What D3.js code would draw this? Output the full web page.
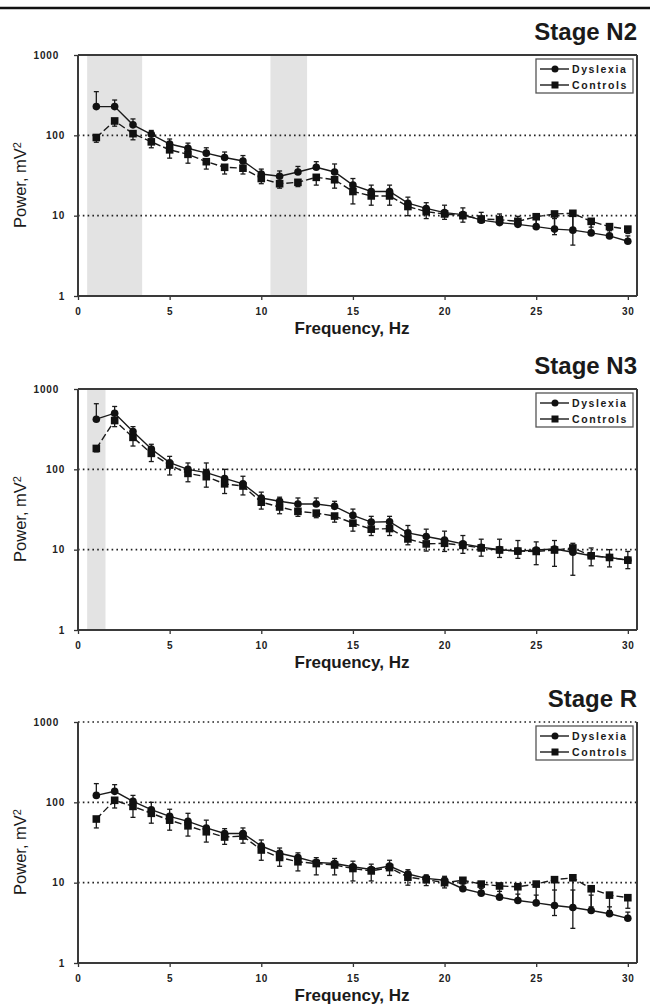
<!DOCTYPE html>
<html>
<head>
<meta charset="utf-8">
<script src="https://cdn.jsdelivr.net/npm/d3@7"></script>
<style>
  body { margin: 0; background: #fff; }
  svg { display: block; font-family: "Liberation Sans", Arial, sans-serif; }
</style>
</head>
<body>
<svg id="chart" width="650" height="1007"></svg>
<script>
// Frequencies (Hz)
const freqs = [1,2,3,4,5,6,7,8,9,10,11,12,13,14,15,16,17,18,19,20,21,22,23,24,25,26,27,28,29,30];
const yTicks = [1, 10, 100, 1000];
const xTicks = [0, 5, 10, 15, 20, 25, 30];

// Stage N2
const n2Dys   = [228,228,135,103,78,69,60,53,48,33,31,35,40,35,24,20,20,14.3,12.3,10.9,10.3,8.8,8.2,7.8,7.3,6.8,6.6,6.1,5.6,4.8];
const n2DysHi = [350,275,160,115,90,80,70,62,56,38,36,41,47,44,29,24,24,17,14.5,13.5,12.5,11,10.5,9.8,9.5,9.2,10.5,8,6.8,5.6];
const n2Ctl   = [94,151,105,83,66,58,47,40,39,29,25,26,30,28,20,17.6,17.6,13,11.2,10.5,10,9.1,8.9,8.5,9.7,10.5,10.7,8.5,7.3,6.8];
const n2CtlLo = [82,130,88,70,52,45,38,33,33,25,22,23,24,22,14,13.5,13.5,10,9.2,9,8.3,8.2,7.8,7.5,7.5,5.8,4.3,7.2,6.5,6.0];
const n2Bands = [[0.5, 3.5], [10.5, 12.5]];

// Stage N3
const n3Dys   = [421,500,295,179,121,100,91,77,66,44,40,37,37,34.6,26.7,22,22.3,16.2,14.6,13.2,11.8,10.7,10,9.6,9.9,10.2,9.3,8.4,8.0,7.4];
const n3DysHi = [656,606,340,205,145,120,120,100,82,52,45,44,44,40,32,26,26,20,18,17,15,13.5,13.5,13,12.5,13,12,10.5,10,9.5];
const n3Ctl   = [182,405,250,158,113,89,81,66,62,39,34,30,28.5,26.2,21.4,18,18.3,13.6,11.8,12,11.3,10.5,9.9,9.6,9.5,9.9,10.5,8.4,8.0,7.4];
const n3CtlLo = [165,340,195,125,85,70,60,50,48,32,28,26,25,22,17,15,15,11.5,9.6,9.5,9,8.3,8,7.8,6.5,6.2,4.8,6.3,6.1,5.8];
const n3Bands = [[0.5, 1.5]];

// Stage R
const rDys    = [122,137,103,81,67,58,48,41,41,28.6,23.2,20.6,17.9,17.3,15.8,14.6,16.1,12.8,11.3,10.7,8.4,7.4,6.6,6.0,5.6,5.2,4.9,4.5,4.1,3.6];
const rDysHi  = [171,166,122,100,82,73,60,47,48,34,27,23.5,20.5,20,18.5,17,19,14.5,12.5,12,9.6,8.5,7.8,7.2,7,8.1,8.1,7,5,4.3];
const rCtl    = [62,106,89,73,60,51,43,37,38,25.5,20.6,18.2,17.3,16.6,15,14,15.4,11.7,10.9,10,10.7,9.6,9.1,8.9,9.6,10.9,11.5,8.4,7.0,6.5];
const rCtlLo  = [48,85,65,55,45,38,32,30,31,19,16,14,12.5,12.5,10.5,10.5,12.3,9.3,9.2,8.6,8.0,7.6,6.6,6,5.6,3.9,2.7,5.0,4.5,4.8];
const rBands  = [];

const panels = [
  { title: 'Stage N2', top: 55,  dys: n2Dys, dysHi: n2DysHi, ctl: n2Ctl, ctlLo: n2CtlLo, bands: n2Bands, grid: [10, 100] },
  { title: 'Stage N3', top: 389, dys: n3Dys, dysHi: n3DysHi, ctl: n3Ctl, ctlLo: n3CtlLo, bands: n3Bands, grid: [10, 100] },
  { title: 'Stage R',  top: 722, dys: rDys,  dysHi: rDysHi,  ctl: rCtl,  ctlLo: rCtlLo,  bands: rBands,  grid: [10, 100, 1000] }
];

const svg = d3.select('#chart');
const left = 78, right = 637, plotH = 241;
const ink = '#1a1a1a';

// rule at the very top of the page
svg.append('line')
  .attr('x1', 0).attr('x2', 650).attr('y1', 8).attr('y2', 8)
  .attr('stroke', '#111').attr('stroke-width', 2.5);

const x = d3.scaleLinear().domain([0, 30.5]).range([left, right]);

panels.forEach(p => {
  const y = d3.scaleLog().domain([1, 1000]).range([p.top + plotH, p.top]);
  const g = svg.append('g');

  // shaded frequency bands
  g.selectAll('rect.band')
    .data(p.bands)
    .enter().append('rect')
    .attr('class', 'band')
    .attr('x', d => x(d[0]))
    .attr('width', d => x(d[1]) - x(d[0]))
    .attr('y', p.top)
    .attr('height', plotH)
    .attr('fill', '#e3e3e3');

  // dotted reference lines
  g.selectAll('line.grid')
    .data(p.grid)
    .enter().append('line')
    .attr('class', 'grid')
    .attr('x1', left).attr('x2', right)
    .attr('y1', d => y(d)).attr('y2', d => y(d))
    .attr('stroke', '#222')
    .attr('stroke-width', 1.6)
    .attr('stroke-dasharray', '1.6,3.2');

  // axes
  const xAxis = d3.axisBottom(x).tickValues(xTicks).tickSize(4).tickPadding(6);
  const yAxis = d3.axisLeft(y).tickValues(yTicks).tickFormat(d3.format('d')).tickSize(4).tickPadding(9);

  const gx = g.append('g').attr('transform', `translate(0,${p.top + plotH})`).call(xAxis);
  const gy = g.append('g').attr('transform', `translate(${left},0)`).call(yAxis);
  [gx, gy].forEach(a => {
    a.select('.domain').remove();
    a.selectAll('line').attr('stroke', '#333').attr('stroke-width', 1.3);
    a.selectAll('text')
      .attr('fill', '#222')
      .style('font-size', '10px')
      .style('font-weight', 'bold')
      .style('letter-spacing', '0.8px');
  });
  gx.selectAll('text').attr('dy', '0.9em');
  gy.selectAll('text').filter(d => d === 1000).attr('dx', -6);

  // frame
  const frame = g.append('g').attr('fill', 'none').attr('stroke', '#3a3a3a').attr('stroke-width', 2);
  frame.append('line').attr('x1', left).attr('x2', left).attr('y1', p.top).attr('y2', p.top + plotH);
  frame.append('line').attr('x1', left).attr('x2', right).attr('y1', p.top + plotH).attr('y2', p.top + plotH);
  frame.append('line').attr('x1', right).attr('x2', right).attr('y1', p.top).attr('y2', p.top + plotH);
  if (p.grid.indexOf(1000) < 0) {
    frame.append('line').attr('x1', left).attr('x2', right).attr('y1', p.top).attr('y2', p.top);
  }

  const rows = freqs.map((f, i) => ({
    f: f, dys: p.dys[i], dysHi: p.dysHi[i], ctl: p.ctl[i], ctlLo: p.ctlLo[i]
  }));

  // series lines
  g.append('path')
    .datum(rows)
    .attr('fill', 'none')
    .attr('stroke', ink)
    .attr('stroke-width', 1.4)
    .attr('stroke-dasharray', '7,3')
    .attr('d', d3.line().x(d => x(d.f)).y(d => y(d.ctl)));

  g.append('path')
    .datum(rows)
    .attr('fill', 'none')
    .attr('stroke', ink)
    .attr('stroke-width', 1.4)
    .attr('d', d3.line().x(d => x(d.f)).y(d => y(d.dys)));

  // error bars: controls downward, dyslexia upward
  const bars = g.append('g').attr('stroke', ink).attr('stroke-width', 1.3);
  rows.forEach(d => {
    const cx = x(d.f);
    bars.append('line').attr('x1', cx).attr('x2', cx).attr('y1', y(d.ctl)).attr('y2', y(d.ctlLo));
    bars.append('line').attr('x1', cx - 2.5).attr('x2', cx + 2.5).attr('y1', y(d.ctlLo)).attr('y2', y(d.ctlLo));
    bars.append('line').attr('x1', cx).attr('x2', cx).attr('y1', y(d.dys)).attr('y2', y(d.dysHi));
    bars.append('line').attr('x1', cx - 2.5).attr('x2', cx + 2.5).attr('y1', y(d.dysHi)).attr('y2', y(d.dysHi));
  });

  // markers
  g.selectAll('rect.ctl')
    .data(rows)
    .enter().append('rect')
    .attr('class', 'ctl')
    .attr('x', d => x(d.f) - 3.8)
    .attr('y', d => y(d.ctl) - 3.8)
    .attr('width', 7.6).attr('height', 7.6)
    .attr('fill', '#111');

  g.selectAll('circle.dys')
    .data(rows)
    .enter().append('circle')
    .attr('class', 'dys')
    .attr('cx', d => x(d.f))
    .attr('cy', d => y(d.dys))
    .attr('r', 3.8)
    .attr('fill', '#111');

  // legend
  const lg = g.append('g').attr('transform', `translate(536,${p.top + 4})`);
  lg.append('rect')
    .attr('width', 97).attr('height', 34)
    .attr('fill', '#fff').attr('stroke', '#555').attr('stroke-width', 1.3);
  const items = [{ name: 'Dyslexia', shape: 'circle' }, { name: 'Controls', shape: 'square' }];
  items.forEach((it, i) => {
    const ly = 10 + i * 16;
    lg.append('line').attr('x1', 4).attr('x2', 33).attr('y1', ly).attr('y2', ly)
      .attr('stroke', ink).attr('stroke-width', 1.4);
    if (it.shape === 'circle') {
      lg.append('circle').attr('cx', 19).attr('cy', ly).attr('r', 3.5).attr('fill', '#111');
    } else {
      lg.append('rect').attr('x', 15.5).attr('y', ly - 3.5).attr('width', 7).attr('height', 7).attr('fill', '#111');
    }
    lg.append('text')
      .attr('x', 36).attr('y', ly + 4)
      .attr('fill', ink)
      .style('font-size', '10.5px')
      .style('font-weight', 'bold')
      .style('letter-spacing', '1.6px')
      .text(it.name);
  });

  // panel title
  g.append('text')
    .attr('x', 637).attr('y', p.top - 15)
    .attr('text-anchor', 'end')
    .attr('fill', ink)
    .style('font-size', '24px')
    .style('font-weight', 'bold')
    .text(p.title);

  // axis titles
  g.append('text')
    .attr('x', 352).attr('y', p.top + plotH + 38)
    .attr('text-anchor', 'middle')
    .attr('fill', ink)
    .style('font-size', '17px')
    .style('font-weight', 'bold')
    .text('Frequency, Hz');

  const yt = g.append('text')
    .attr('transform', `translate(26,${p.top + 130}) rotate(-90)`)
    .attr('text-anchor', 'middle')
    .attr('fill', ink)
    .style('font-size', '16.5px');
  yt.append('tspan').text('Power, mV');
  yt.append('tspan').attr('dy', '-0.45em').style('font-size', '11px').text('2');
});
</script>
</body>
</html>
